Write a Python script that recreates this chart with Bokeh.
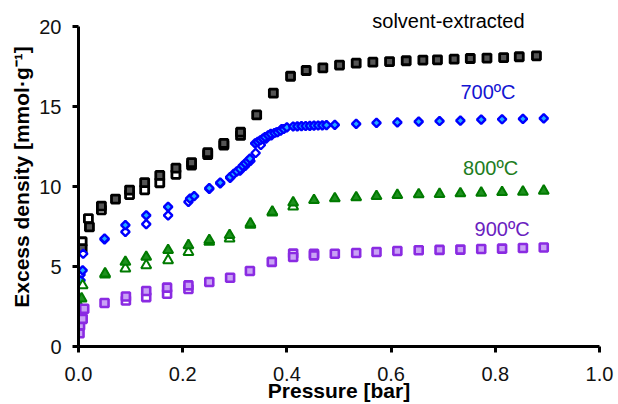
import numpy as np
from bokeh.plotting import figure
from bokeh.models import FixedTicker, NumeralTickFormatter, Label
from bokeh.embed import file_html
from bokeh.resources import INLINE

FONT = "Liberation Sans"

# ---- solvent-extracted (black squares) ----
se_ads_x = [0.007, 0.021, 0.044, 0.071, 0.098, 0.127, 0.156, 0.187, 0.217, 0.248,
            0.279, 0.311, 0.342, 0.374, 0.407, 0.437, 0.469, 0.501, 0.533, 0.565,
            0.597, 0.629, 0.661, 0.689, 0.721, 0.752, 0.784, 0.816, 0.846, 0.879]
se_ads_y = [6.12, 7.48, 8.78, 9.22, 9.78, 10.25, 10.7, 11.15, 11.5, 12.12,
            12.7, 13.4, 14.48, 15.84, 16.9, 17.26, 17.43, 17.6, 17.72, 17.78,
            17.82, 17.87, 17.91, 17.93, 17.97, 18.01, 18.04, 18.07, 18.12, 18.18]
se_des_x = [0.007, 0.019, 0.044, 0.098, 0.127, 0.156, 0.187, 0.217, 0.248, 0.279, 0.311]
se_des_y = [6.55, 8.0, 8.55, 9.5, 9.8, 10.24, 10.77, 11.35, 12.0, 12.6, 13.2]

# ---- 700 C (blue diamonds) ----
c7_ads_x = [0.001, 0.002, 0.004, 0.008, 0.050, 0.090, 0.130, 0.172, 0.214, 0.222,
            0.251, 0.272, 0.291, 0.298, 0.304, 0.310, 0.315, 0.320, 0.325, 0.329,
            0.339, 0.344, 0.349, 0.354, 0.358, 0.364, 0.369, 0.376, 0.382, 0.388,
            0.394, 0.400, 0.412, 0.420, 0.428, 0.436, 0.444, 0.452, 0.460, 0.468,
            0.476, 0.492, 0.533, 0.572, 0.612, 0.653, 0.693, 0.733, 0.773, 0.813,
            0.853, 0.893]
c7_ads_y = [2.4, 3.0, 4.14, 4.76, 6.75, 7.59, 8.2, 8.73, 9.25, 9.4,
            9.9, 10.25, 10.6, 10.8, 10.95, 11.1, 11.3, 11.45, 11.6, 11.75,
            12.7, 12.8, 12.9, 13.0, 13.1, 13.2, 13.3, 13.35, 13.4, 13.5,
            13.6, 13.7, 13.76, 13.77, 13.78, 13.79, 13.8, 13.81, 13.82, 13.83,
            13.84, 13.86, 13.92, 13.98, 14.02, 14.06, 14.1, 14.13, 14.19, 14.21,
            14.23, 14.27]
c7_des_x = [0.004, 0.009, 0.050, 0.090, 0.130, 0.172, 0.211, 0.251, 0.272, 0.291,
            0.310, 0.320, 0.330, 0.340, 0.350, 0.360, 0.370, 0.380, 0.390]
c7_des_y = [4.5, 5.8, 6.7, 7.17, 7.65, 8.2, 9.05, 9.85, 10.2, 10.55,
            11.0, 11.3, 11.6, 12.1, 12.6, 13.0, 13.2, 13.4, 13.6]

# ---- 800 C (green triangles) ----
c8_ads_x = [0.001, 0.004, 0.006, 0.051, 0.090, 0.130, 0.172, 0.211, 0.251, 0.290,
            0.330, 0.372, 0.412, 0.452, 0.492, 0.533, 0.572, 0.612, 0.653, 0.693,
            0.733, 0.773, 0.813, 0.853, 0.893]
c8_ads_y = [1.4, 2.4, 3.0, 4.56, 5.29, 5.6, 6.02, 6.33, 6.65, 6.96,
            7.69, 8.42, 9.0, 9.15, 9.26, 9.32, 9.4, 9.47, 9.51, 9.53,
            9.57, 9.61, 9.65, 9.67, 9.74]
c8_des_x = [0.008, 0.051, 0.090, 0.130, 0.172, 0.211, 0.251, 0.290, 0.330, 0.372, 0.412]
c8_des_y = [3.82, 4.5, 4.87, 5.08, 5.39, 5.91, 6.54, 6.75, 7.6, 8.38, 8.75]

# ---- 900 C (purple squares) ----
c9_ads_x = [0.002, 0.003, 0.008, 0.011, 0.050, 0.091, 0.130, 0.170, 0.211, 0.251,
            0.291, 0.329, 0.371, 0.412, 0.452, 0.492, 0.533, 0.572, 0.612, 0.653,
            0.693, 0.733, 0.773, 0.813, 0.853, 0.893]
c9_ads_y = [0.83, 1.32, 1.73, 2.36, 2.72, 3.13, 3.47, 3.68, 3.82, 4.03,
            4.3, 4.72, 5.29, 5.6, 5.7, 5.8, 5.85, 5.91, 5.97, 6.02,
            6.04, 6.06, 6.1, 6.12, 6.16, 6.19]
c9_des_x = [0.091, 0.130, 0.170, 0.211, 0.412, 0.452]
c9_des_y = [2.88, 3.09, 3.3, 3.6, 5.81, 5.8]

x_ticks = [0.0, 0.2, 0.4, 0.6, 0.8, 1.0]
y_ticks = [0, 5, 10, 15, 20]
x_title = "Pressure [bar]"
y_title = "Excess density [mmol\u00b7g\u207b\u00b9]"

p = figure(width=618, height=404, x_range=(0, 1.0), y_range=(0, 21.2),
           output_backend="svg", toolbar_location=None,
           min_border_left=78, min_border_right=19, min_border_top=7, min_border_bottom=58)
p.grid.visible = False
p.outline_line_color = None
p.background_fill_color = "white"
p.border_fill_color = "white"

for ax in (p.xaxis[0], p.yaxis[0]):
    ax.axis_line_width = 3
    ax.axis_line_color = "black"
    ax.major_tick_line_width = 3
    ax.major_tick_line_color = "black"
    ax.major_tick_in = 0
    ax.major_tick_out = 6
    ax.minor_tick_line_color = None
    ax.major_label_text_font = FONT
    ax.major_label_text_font_size = "20px"
    ax.major_label_text_color = "#111111"
    ax.axis_label_text_font = FONT
    ax.axis_label_text_font_size = "21px"
    ax.axis_label_text_font_style = "bold"
    ax.axis_label_text_color = "black"

p.xaxis.ticker = FixedTicker(ticks=x_ticks)
p.xaxis.formatter = NumeralTickFormatter(format="0.0")
p.xaxis.axis_label = x_title
p.xaxis.major_label_standoff = 14
p.xaxis.axis_label_standoff = -5
p.xaxis.axis_label_text_line_height = 0.8

p.yaxis.ticker = FixedTicker(ticks=y_ticks)
p.yaxis.formatter = NumeralTickFormatter(format="0")
p.yaxis.bounds = (0, 20)
p.yaxis.axis_label = y_title
p.yaxis.major_label_standoff = 11
p.yaxis.axis_label_standoff = 3

diamond_angle = np.pi / 4

# solvent-extracted
p.scatter(se_des_x, se_des_y, marker="square", size=8, line_width=2.8,
          line_color="black", fill_color="white")
p.scatter(se_ads_x, se_ads_y, marker="square", size=8, line_width=2.8,
          line_color="black", fill_color="#555555")
# 700
p.scatter(c7_des_x, c7_des_y, marker="square", angle=diamond_angle, size=6, line_width=2.4,
          line_color="#0000FF", fill_color="white")
p.scatter(c7_ads_x, c7_ads_y, marker="square", angle=diamond_angle, size=6, line_width=2.4,
          line_color="#0000FF", fill_color="#22AAFF")
# 800
p.scatter(c8_des_x, c8_des_y, marker="triangle", size=10, line_width=2,
          line_color="#007A00", fill_color="white")
p.scatter(c8_ads_x, c8_ads_y, marker="triangle", size=10, line_width=2,
          line_color="#007A00", fill_color="#1E901E")
# 900
p.scatter(c9_des_x, c9_des_y, marker="square", size=8, line_width=2.6,
          line_color="#8A2BE2", fill_color="white")
p.scatter(c9_ads_x, c9_ads_y, marker="square", size=8, line_width=2.6,
          line_color="#8A2BE2", fill_color="#C9A2F5")

labels = [
    ("solvent-extracted", 0.710, 20.38, "black"),
    ("700\u00baC", 0.786, 15.9, "#1414D2"),
    ("800\u00baC", 0.791, 11.19, "#1E7D1E"),
    ("900\u00baC", 0.813, 7.34, "#6A22C0"),
]
for txt, lx, ly, col in labels:
    p.add_layout(Label(x=lx, y=ly, text=txt, text_font=FONT, text_font_size="20px",
                       text_color=col, text_align="center", text_baseline="middle"))

open("out.html", "w").write(file_html(p, INLINE))
